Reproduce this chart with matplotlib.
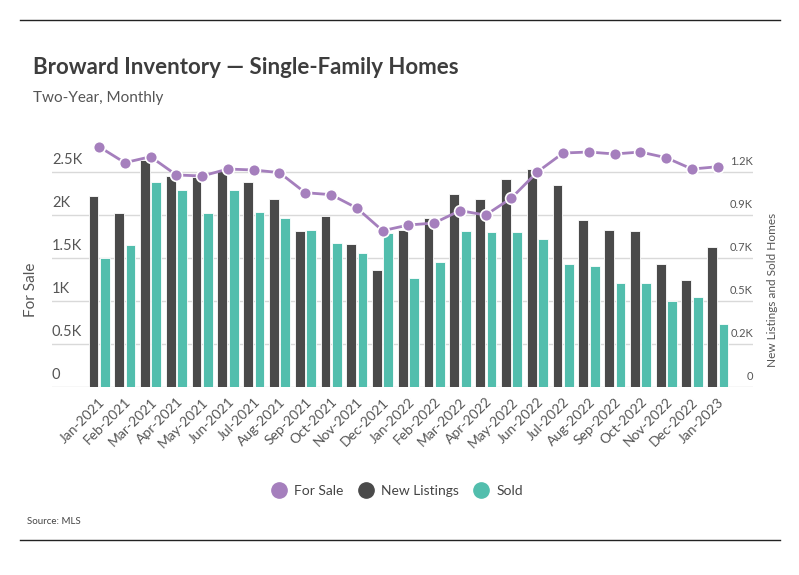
import matplotlib
matplotlib.use("Agg")
import matplotlib.pyplot as plt
from matplotlib.lines import Line2D
from matplotlib.transforms import blended_transform_factory
import numpy as np

months = ["Jan-2021", "Feb-2021", "Mar-2021", "Apr-2021", "May-2021", "Jun-2021",
          "Jul-2021", "Aug-2021", "Sep-2021", "Oct-2021", "Nov-2021", "Dec-2021",
          "Jan-2022", "Feb-2022", "Mar-2022", "Apr-2022", "May-2022", "Jun-2022",
          "Jul-2022", "Aug-2022", "Sep-2022", "Oct-2022", "Nov-2022", "Dec-2022",
          "Jan-2023"]
for_sale = [2798, 2612, 2681, 2469, 2457, 2538, 2527, 2496, 2263, 2240, 2085, 1821,
            1887, 1910, 2054, 2003, 2201, 2503, 2724, 2736, 2713, 2736, 2670, 2538, 2565]
new_listings = [1045, 953, 1242, 1155, 1151, 1184, 1122, 1029, 854, 936, 783, 641,
                860, 925, 1056, 1029, 1138, 1193, 1106, 914, 857, 854, 674, 586, 767]
sold = [707, 778, 1122, 1078, 953, 1078, 958, 925, 860, 789, 734, 845,
        597, 685, 854, 849, 849, 810, 674, 663, 570, 570, 472, 493, 346]

left_ticks = [0, 500, 1000, 1500, 2000, 2500]
left_labels = ["0", "0.5K", "1K", "1.5K", "2K", "2.5K"]
right_ticks = [0, 235, 470, 705, 940, 1175]
right_labels = ["0", "0.2K", "0.5K", "0.7K", "0.9K", "1.2K"]

PURPLE = "#a57fbd"
DARK = "#4a4a4a"
TEAL = "#52bead"
TXT = "#555555"
FONT = ["Lato", "DejaVu Sans"]

plt.rcParams["font.family"] = FONT

W, H = 799, 575
fig = plt.figure(figsize=(W / 100, H / 100), dpi=100)

left_px, right_px, zero_px = 52, 753, 387.3
lmax = 2900
rmax = lmax / 500 * 235
ax_h_px = lmax / 500 * 43
ax = fig.add_axes([left_px / W, (H - zero_px) / H, (right_px - left_px) / W, ax_h_px / H])
ax2 = ax.twinx()

x = np.arange(len(months))
xl0 = -(99 - left_px) / 25.78
xl1 = xl0 + (right_px - left_px) / 25.78

ax2.bar(x - 0.215, new_listings, width=0.38, color=DARK, edgecolor="white", linewidth=0.6, zorder=2)
ax2.bar(x + 0.225, sold, width=0.38, color=TEAL, edgecolor="white", linewidth=0.6, zorder=2)
ax2.set_ylim(0, rmax)
ax2.set_yticks(right_ticks)
ax2.yaxis.grid(True, color="#d9d9d9", linewidth=1)
ax2.set_axisbelow(True)
ax2.tick_params(axis="y", length=0, labelright=False)

ax.set_zorder(ax2.get_zorder() + 1)
ax.patch.set_visible(False)
ax.plot(x, for_sale, color=PURPLE, linewidth=2, marker="o", markersize=8.5,
        markerfacecolor=PURPLE, markeredgecolor="white", markeredgewidth=1.2, zorder=5)
ax.set_ylim(0, lmax)
ax.set_yticks(left_ticks)
ax.tick_params(axis="y", length=0, labelleft=False)
ax.set_xlim(xl0, xl1)
ax2.set_xlim(xl0, xl1)

ax.set_xticks(x)
ax.set_xticklabels(months, rotation=45, ha="right", rotation_mode="anchor",
                   fontsize=10, color=TXT)
ax.tick_params(axis="x", length=0, pad=6)
for a in (ax, ax2):
    for s in a.spines.values():
        s.set_visible(False)

tl = blended_transform_factory(ax.transAxes, ax.transData)
for v, lab in zip(left_ticks, left_labels):
    ax.text(0.0, v + 60, lab, transform=tl, ha="left", va="bottom", fontsize=10.5,
            color=TXT)
tr = blended_transform_factory(ax2.transAxes, ax2.transData)
for v, lab in zip(right_ticks, right_labels):
    ax2.text(1.0, v + 28, lab, transform=tr, ha="right", va="bottom", fontsize=8,
             color=TXT)

fig.text(31 / W, 1 - 290 / H, "For Sale", rotation=90, ha="center", va="center",
         fontsize=11, color=TXT)
fig.text(773 / W, 1 - 290 / H, "New Listings and Sold Homes", rotation=90, ha="center",
         va="center", fontsize=8.5, color=TXT)

fig.text(33 / W, 1 - 68 / H, "Broward Inventory \u2014 Single-Family Homes", ha="left",
         va="center", fontsize=16, fontweight="bold", color="#3d3d3d")
fig.text(33 / W, 1 - 98 / H, "Two-Year, Monthly", ha="left", va="center",
         fontsize=11, color=TXT)

handles = [Line2D([], [], marker="o", linestyle="none", markersize=11, color=c)
           for c in (PURPLE, DARK, TEAL)]
fig.legend(handles, ["For Sale", "New Listings", "Sold"], loc="center",
           bbox_to_anchor=(397 / W, 1 - 491 / H), ncol=3, frameon=False,
           handletextpad=0.5, columnspacing=1.0, handlelength=1.2,
           prop={"size": 10}, labelcolor="#444444")

fig.text(27 / W, 1 - 522 / H, "Source: MLS", ha="left", va="center", fontsize=7,
         color="#444444")

fig.add_artist(Line2D([20 / W, 780 / W], [1 - 20 / H, 1 - 20 / H], color="#222222", linewidth=1))
fig.add_artist(Line2D([20 / W, 780 / W], [1 - 540 / H, 1 - 540 / H], color="#222222", linewidth=1))

fig.savefig("out.png", dpi=100, facecolor="white")
